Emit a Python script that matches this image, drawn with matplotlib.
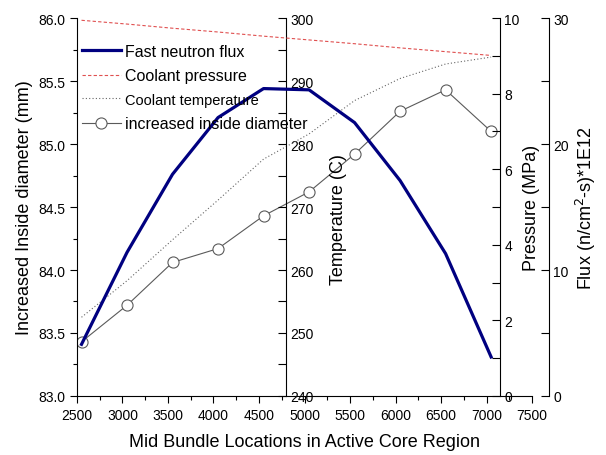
import matplotlib
matplotlib.use('Agg')
import matplotlib.pyplot as plt
from matplotlib.ticker import MultipleLocator

plt.rcParams['font.family'] = ['Liberation Sans', 'DejaVu Sans']

# data
locations = [2550, 3050, 3550, 4050, 4550, 5050, 5550, 6050, 6550, 7050]
flux = [4.1, 11.4, 17.6, 22.1, 24.4, 24.3, 21.7, 17.1, 11.3, 3.1]
pressure = [9.94, 9.84, 9.73, 9.63, 9.52, 9.42, 9.32, 9.21, 9.11, 9.01]
temperature = [252.5, 258.3, 264.8, 271.1, 277.6, 281.6, 286.9, 290.4, 292.7, 293.8]
diameter = [83.43, 83.72, 84.06, 84.17, 84.43, 84.62, 84.92, 85.26, 85.43, 85.10]

fig = plt.figure(figsize=(6.06, 4.56), dpi=100)
ax = fig.add_axes([0.127, 0.1294, 0.751, 0.8289])
ax_t = ax.twinx()
ax_p = ax.twinx()
ax_f = ax.twinx()

ax_t.spines['right'].set_position(('axes', 0.459))
ax_p.spines['right'].set_position(('axes', 0.93))
ax_f.spines['right'].set_position(('axes', 1.037))

for a in [ax, ax_t, ax_p, ax_f]:
    a.spines['top'].set_visible(False)
ax.spines['right'].set_visible(False)
for a in [ax_t, ax_p, ax_f]:
    a.spines['left'].set_visible(False)
    a.spines['bottom'].set_visible(False)

# lines
l_d, = ax.plot(locations, diameter, color='#5a5a5a', lw=0.8, marker='o', ms=8,
               mfc='white', mec='#5a5a5a', mew=0.8, label='increased inside diameter')
l_t, = ax_t.plot(locations, temperature, color='#666666', lw=0.8, ls=(0, (1, 2)),
                 label='Coolant temperature')
l_p, = ax_p.plot(locations, pressure, color='#e05050', lw=0.8, ls=(0, (3, 2)),
                 label='Coolant pressure')
l_f, = ax_f.plot(locations, flux, color='#000080', lw=2.3, label='Fast neutron flux')

ax.set_xlim(2500, 7500)
ax.xaxis.set_major_locator(MultipleLocator(500))
ax.xaxis.set_minor_locator(MultipleLocator(250))
ax.set_ylim(83.0, 86.0)
ax.yaxis.set_major_locator(MultipleLocator(0.5))
ax.yaxis.set_minor_locator(MultipleLocator(0.25))
ax.yaxis.set_major_formatter('{x:.1f}')

ax_t.set_ylim(240, 300)
ax_t.yaxis.set_major_locator(MultipleLocator(10))
ax_t.yaxis.set_minor_locator(MultipleLocator(5))
ax_p.set_ylim(0, 10)
ax_p.yaxis.set_major_locator(MultipleLocator(2))
ax_p.yaxis.set_minor_locator(MultipleLocator(1))
ax_f.set_ylim(0, 30)
ax_f.yaxis.set_major_locator(MultipleLocator(10))
ax_f.yaxis.set_minor_locator(MultipleLocator(5))

ax.tick_params(which='major', direction='out', length=5, width=0.8, labelsize=10)
ax.tick_params(which='minor', direction='out', length=3, width=0.8)
for a in [ax_t, ax_p, ax_f]:
    a.tick_params(axis='y', which='major', direction='in', length=6, width=0.8,
                  labelsize=10, pad=3)
    a.tick_params(axis='y', which='minor', direction='in', length=6, width=0.8)

ax.set_xlabel('Mid Bundle Locations in Active Core Region', fontsize=13, labelpad=8)
ax.set_ylabel('Increased Inside diameter (mm)', fontsize=13, labelpad=4)
ax_t.set_ylabel('Temperature (C)', fontsize=13)
ax_t.yaxis.set_label_coords(0.557, 0.47)
ax_p.set_ylabel('Pressure (MPa)', fontsize=13, labelpad=2)
ax_f.set_ylabel('Flux (n/cm$^2$-s)*1E12', fontsize=13, labelpad=4)

leg = ax_f.legend(handles=[l_f, l_p, l_t, l_d], loc='upper left',
                  bbox_to_anchor=(-0.013, 0.962), frameon=False, fontsize=11.5,
                  handlelength=2.4, handletextpad=0.3, labelspacing=0.6,
                  borderaxespad=0.3)
leg.get_texts()[2].set_fontsize(10.5)

fig.savefig('out.png', dpi=100)
